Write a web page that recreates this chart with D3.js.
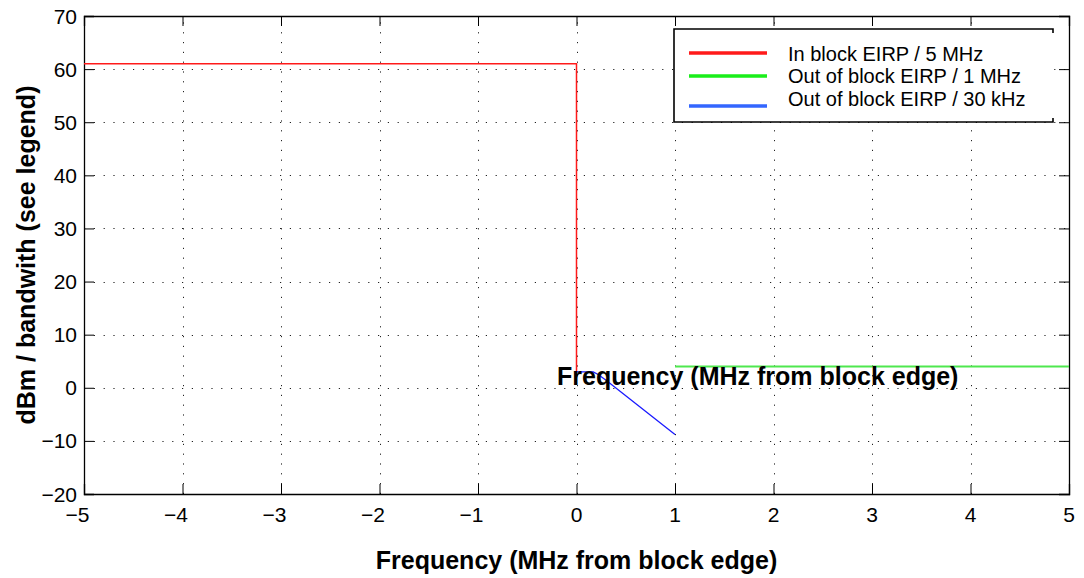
<!DOCTYPE html>
<html>
<head>
<meta charset="utf-8">
<script src="https://cdn.jsdelivr.net/npm/d3@7"></script>
<style>
  html, body { margin: 0; padding: 0; background: #fff; }
  svg { display: block; font-family: "Liberation Sans", Arial, Helvetica, sans-serif; }
</style>
</head>
<body>
<svg id="chart" width="1084" height="578"></svg>
<script>
// Emission mask: EIRP limits vs. frequency offset from the block edge
const xTicks = [-5, -4, -3, -2, -1, 0, 1, 2, 3, 4, 5];
const yTicks = [-20, -10, 0, 10, 20, 30, 40, 50, 60, 70];

const inBlockX = [-5, 0, 0];
const inBlockY = [61, 61, 3];

const oob1MHzX = [1, 5];
const oob1MHzY = [4, 4];

const oob30kHzX = [0, 0.17, 0.22, 0.3, 1];
const oob30kHzY = [3, 3, 2.5, 1.4, -8.8];

const seriesNames = ["In block EIRP / 5 MHz", "Out of block EIRP / 1 MHz", "Out of block EIRP / 30 kHz"];
const xLabel = "Frequency (MHz from block edge)";
const yLabel = "dBm / bandwith (see legend)";

const svg = d3.select("#chart");
const L = 84, R = 1069, T = 16, B = 494;

const x = d3.scaleLinear().domain([-5, 5]).range([L, R]);
const y = d3.scaleLinear().domain([-20, 70]).range([B, T]);

const fmt = v => (v < 0 ? "\u2212" + Math.abs(v) : String(v));

// dotted grid
const grid = svg.append("g").attr("stroke", "#222").attr("stroke-width", 1)
  .attr("stroke-dasharray", "1.2,8.6");
xTicks.slice(1, -1).forEach(v => {
  grid.append("line").attr("x1", Math.round(x(v)) + 0.5).attr("x2", Math.round(x(v)) + 0.5)
    .attr("y1", B).attr("y2", T);
});
yTicks.slice(1, -1).forEach(v => {
  grid.append("line").attr("y1", Math.round(y(v)) + 0.5).attr("y2", Math.round(y(v)) + 0.5)
    .attr("x1", L).attr("x2", R);
});

// axes (ticks pointing inward, mirrored on top and right)
const tickLen = 10;
const axB = svg.append("g").attr("transform", `translate(0,${B})`)
  .call(d3.axisTop(x).tickValues(xTicks).tickSize(tickLen).tickFormat(""));
const axT = svg.append("g").attr("transform", `translate(0,${T})`)
  .call(d3.axisBottom(x).tickValues(xTicks).tickSize(tickLen).tickFormat(""));
const axL = svg.append("g").attr("transform", `translate(${L},0)`)
  .call(d3.axisRight(y).tickValues(yTicks).tickSize(tickLen).tickFormat(""));
const axR = svg.append("g").attr("transform", `translate(${R},0)`)
  .call(d3.axisLeft(y).tickValues(yTicks).tickSize(tickLen).tickFormat(""));
[axB, axT, axL, axR].forEach(g => {
  g.select(".domain").attr("stroke", "#000").attr("stroke-width", 1.3);
  g.selectAll(".tick line").attr("stroke", "#000").attr("stroke-width", 1);
});

// tick labels (minus sign hangs to the left of the digits)
svg.append("g").selectAll("text").data(xTicks).join("text")
  .attr("x", d => x(d) - (d < 0 ? 6.5 : 0)).attr("y", 522)
  .attr("text-anchor", "middle").attr("font-size", 21).attr("fill", "#000")
  .text(fmt);
svg.append("g").selectAll("text").data(yTicks).join("text")
  .attr("x", 77).attr("y", d => y(d) + 7.5)
  .attr("text-anchor", "end").attr("font-size", 21).attr("fill", "#000")
  .text(fmt);

// data lines
const line = d3.line().x(d => x(d[0])).y(d => y(d[1]));
const zip = (a, b) => a.map((v, i) => [v, b[i]]);

svg.append("path").datum(zip(oob1MHzX, oob1MHzY)).attr("d", line)
  .attr("fill", "none").attr("stroke", "#4ee84e").attr("stroke-width", 2);
svg.append("path").datum(zip(inBlockX, inBlockY)).attr("d", line)
  .attr("fill", "none").attr("stroke", "#ff1a1a").attr("stroke-width", 1.5);
svg.append("path").datum(zip(oob30kHzX, oob30kHzY)).attr("d", line)
  .attr("fill", "none").attr("stroke", "#1a1aff").attr("stroke-width", 1.3);

// stray axis-label copy drawn inside the plot
svg.append("text").attr("x", 557).attr("y", 385)
  .attr("font-size", 25).attr("font-weight", "bold").attr("fill", "#000")
  .text(xLabel);

// axis titles
svg.append("text").attr("x", x(0)).attr("y", 569)
  .attr("text-anchor", "middle").attr("font-size", 25).attr("font-weight", "bold")
  .text(xLabel);
svg.append("text").attr("transform", `translate(35,${(T + B) / 2}) rotate(-90)`)
  .attr("text-anchor", "middle").attr("font-size", 25).attr("font-weight", "bold")
  .text(yLabel);

// legend
const lg = svg.append("g");
const lx0 = 674, lx1 = 1053, ly0 = 29, ly1 = 122;
lg.append("rect").attr("x", lx0).attr("y", ly0).attr("width", lx1 - lx0).attr("height", ly1 - ly0)
  .attr("fill", "#fff");
lg.append("path")
  .attr("d", `M${lx1},${ly0 + 4}V${ly0}H${lx0}V${ly1}H${lx1}V${ly1 - 4}`)
  .attr("fill", "none").attr("stroke", "#000").attr("stroke-width", 1.6);
const legColors = ["#ff1a1a", "#1aee1a", "#3366ff"];
const legY = [53, 76, 106];
const legTextY = [60.7, 83.3, 106];
seriesNames.forEach((name, i) => {
  lg.append("line").attr("x1", 689).attr("x2", 767).attr("y1", legY[i]).attr("y2", legY[i])
    .attr("stroke", legColors[i]).attr("stroke-width", 3.5);
  lg.append("text").attr("x", 788).attr("y", legTextY[i])
    .attr("font-size", 20).attr("fill", "#000").text(name);
});
</script>
</body>
</html>
